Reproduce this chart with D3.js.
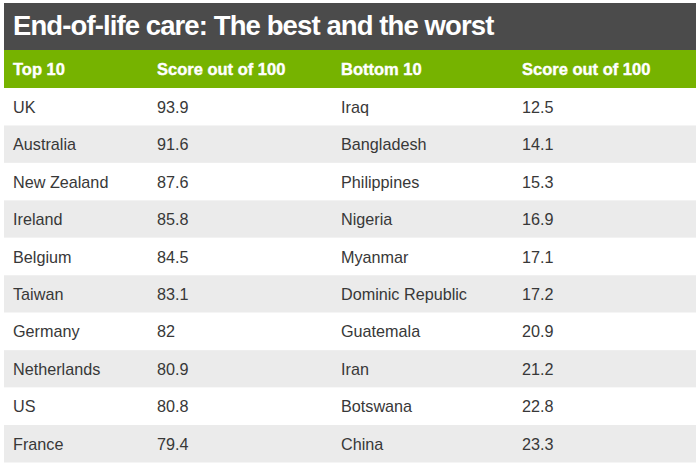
<!DOCTYPE html>
<html>
<head>
<meta charset="utf-8">
<script src="https://cdn.jsdelivr.net/npm/d3@7"></script>
<style>
body { margin: 0; background: #fff; }
text { font-family: "Liberation Sans", Arial, sans-serif; }
</style>
</head>
<body>
<script>
var width = 700, height = 472

var title = "End-of-life care: The best and the worst"
var headers = ["Top 10", "Score out of 100", "Bottom 10", "Score out of 100"]
var topCountries = ["UK", "Australia", "New Zealand", "Ireland", "Belgium", "Taiwan", "Germany", "Netherlands", "US", "France"]
var topScores = ["93.9", "91.6", "87.6", "85.8", "84.5", "83.1", "82", "80.9", "80.8", "79.4"]
var bottomCountries = ["Iraq", "Bangladesh", "Philippines", "Nigeria", "Myanmar", "Dominic Republic", "Guatemala", "Iran", "Botswana", "China"]
var bottomScores = ["12.5", "14.1", "15.3", "16.9", "17.1", "17.2", "20.9", "21.2", "22.8", "23.3"]

var rows = topCountries.map(function(c, i) {
	return [c, topScores[i], bottomCountries[i], bottomScores[i]]
})

var left = 4, right = 696

var svg = d3.select("body")
.append("svg")
.attr("width", width)
.attr("height", height)

//column text positions
var colX = d3.scaleOrdinal()
.domain([0, 1, 2, 3])
.range([13, 157, 341, 522])

var rowScale = d3.scaleBand()
.domain(d3.range(rows.length))
.range([88, 462.5])

//title bar
svg.append("rect")
.attr("x", left).attr("y", 3)
.attr("width", right - left).attr("height", 47)
.attr("fill", "#4b4b4b")

svg.append("text")
.attr("x", 13).attr("y", 35)
.attr("fill", "#fff")
.attr("font-size", 27.5)
.attr("font-weight", "bold")
.attr("letter-spacing", -0.9)
.text(title)

//header
svg.append("rect")
.attr("x", left).attr("y", 50)
.attr("width", right - left).attr("height", 38)
.attr("fill", "#76b300")

svg.selectAll(".head")
.data(headers)
.enter()
.append("text")
.attr("class", "head")
.attr("x", function(d, i) { return colX(i) })
.attr("y", 75)
.attr("fill", "#fff")
.attr("stroke", "#fff")
.attr("stroke-width", 0.4)
.attr("font-size", 16.5)
.attr("font-weight", "bold")
.text(function(d) { return d })

//rows
var rowG = svg.selectAll(".row")
.data(rows)
.enter()
.append("g")
.attr("class", "row")
.attr("transform", function(d, i) { return "translate(0," + rowScale(i) + ")" })

rowG.append("rect")
.attr("x", left)
.attr("width", right - left)
.attr("height", rowScale.bandwidth())
.attr("fill", function(d, i) { return i % 2 ? "#ebebeb" : "#fff" })

rowG.selectAll("text")
.data(function(d) { return d })
.enter()
.append("text")
.attr("x", function(d, i) { return colX(i) })
.attr("y", rowScale.bandwidth() / 2 + 6)
.attr("fill", "#383838")
.attr("font-size", 16.2)
.text(function(d) { return d })
</script>
</body>
</html>
